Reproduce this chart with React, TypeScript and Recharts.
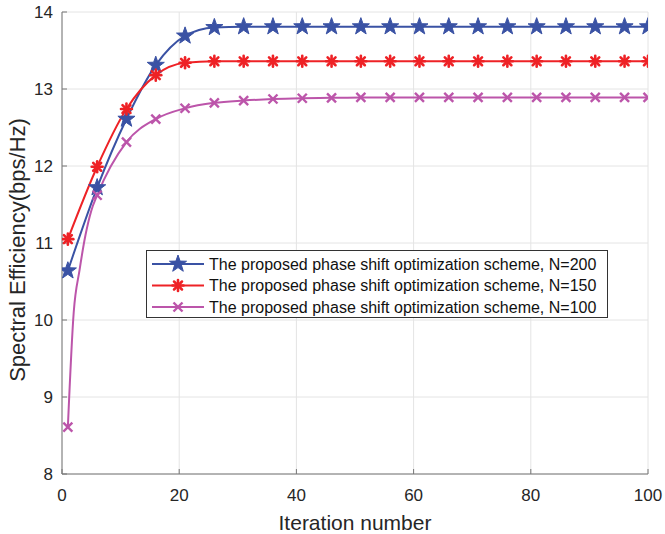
import { LineChart, Line, XAxis, YAxis, CartesianGrid, Legend, Label } from 'recharts';

// iterations where markers are drawn (MATLAB MarkerIndices every 5)
const markerIters = [1, 6, 11, 16, 21, 26, 31, 36, 41, 46, 51, 56, 61, 66, 71, 76, 81, 86, 91, 96, 100];

const n200 = [10.64, 11.72, 12.61, 13.31, 13.69, 13.8, 13.81, 13.81, 13.81, 13.81, 13.81, 13.81, 13.81, 13.81, 13.81, 13.81, 13.81, 13.81, 13.81, 13.81, 13.81];
const n150 = [11.05, 11.99, 12.74, 13.18, 13.34, 13.36, 13.36, 13.36, 13.36, 13.36, 13.36, 13.36, 13.36, 13.36, 13.36, 13.36, 13.36, 13.36, 13.36, 13.36, 13.36];
const n100 = [8.61, 11.62, 12.31, 12.61, 12.75, 12.82, 12.85, 12.87, 12.88, 12.885, 12.89, 12.89, 12.89, 12.89, 12.89, 12.89, 12.89, 12.89, 12.89, 12.89, 12.89];

const n100EarlyIters = [2, 3, 4, 5];
const n100Early = [10.1, 10.65, 11.1, 11.42];

const xTicks = [0, 20, 40, 60, 80, 100];
const yTicks = [8, 9, 10, 11, 12, 13, 14];

const legendNames = [
  'The proposed phase shift optimization scheme, N=200',
  'The proposed phase shift optimization scheme, N=150',
  'The proposed phase shift optimization scheme, N=100',
];

const BLUE = '#3A52A4';
const RED = '#EE2226';
const MAGENTA = '#BC55AA';
const FONT = "'Liberation Sans', Arial, Helvetica, sans-serif";

type Pt = { x: number; y: number; m: boolean };

function build(vals: number[], extraX: number[] = [], extraY: number[] = []): Pt[] {
  const pts: Pt[] = markerIters.map((x, i) => ({ x, y: vals[i], m: true }));
  extraX.forEach((x, i) => pts.push({ x, y: extraY[i], m: false }));
  return pts.sort((a, b) => a.x - b.x);
}

const data200 = build(n200);
const data150 = build(n150);
const data100 = build(n100, n100EarlyIters, n100Early);

function Star({ cx, cy, color }: { cx: number; cy: number; color: string }) {
  const R = 9;
  const r = R * 0.4;
  const pts: string[] = [];
  for (let i = 0; i < 10; i++) {
    const a = -Math.PI / 2 + (i * Math.PI) / 5;
    const rad = i % 2 === 0 ? R : r;
    pts.push(`${cx + rad * Math.cos(a)},${cy + rad * Math.sin(a)}`);
  }
  return <polygon points={pts.join(' ')} fill={color} stroke={color} strokeWidth={1} />;
}

function Asterisk({ cx, cy, color }: { cx: number; cy: number; color: string }) {
  const s = 5.5;
  const d = s * 0.72;
  return (
    <g stroke={color} strokeWidth={2.6} strokeLinecap="round">
      <line x1={cx - s} y1={cy} x2={cx + s} y2={cy} />
      <line x1={cx} y1={cy - s} x2={cx} y2={cy + s} />
      <line x1={cx - d} y1={cy - d} x2={cx + d} y2={cy + d} />
      <line x1={cx - d} y1={cy + d} x2={cx + d} y2={cy - d} />
    </g>
  );
}

function Cross({ cx, cy, color }: { cx: number; cy: number; color: string }) {
  const s = 4.5;
  return (
    <g stroke={color} strokeWidth={2.4}>
      <line x1={cx - s} y1={cy - s} x2={cx + s} y2={cy + s} />
      <line x1={cx - s} y1={cy + s} x2={cx + s} y2={cy - s} />
    </g>
  );
}

const markers = [Star, Asterisk, Cross];
const colors = [BLUE, RED, MAGENTA];

function makeDot(idx: number) {
  const M = markers[idx];
  return (props: any) => {
    const { cx, cy, payload, index } = props;
    if (!payload || !payload.m || cx == null || cy == null) return <g key={`d-${idx}-${index}`} />;
    return (
      <g key={`d-${idx}-${index}`}>
        <M cx={cx} cy={cy} color={colors[idx]} />
      </g>
    );
  };
}

function LegendBox() {
  return (
    <svg width={463} height={69} style={{ display: 'block' }}>
      <rect x={0.5} y={0.5} width={461} height={67} fill="#fff" stroke="#333" strokeWidth={1} />
      {legendNames.map((name, i) => {
        const cy = 14 + i * 21.5;
        const M = markers[i];
        return (
          <g key={name}>
            <line x1={6} y1={cy} x2={58} y2={cy} stroke={colors[i]} strokeWidth={2} />
            <M cx={32} cy={cy} color={colors[i]} />
            <text x={63} y={cy} dominantBaseline="central" fontSize={16} fill="#111" fontFamily={FONT}>
              {name}
            </text>
          </g>
        );
      })}
    </svg>
  );
}

const tickStyle = { fontSize: 17, fill: '#262626', fontFamily: FONT };
const axisStroke = '#777';

export default function App() {
  return (
    <div style={{ position: 'absolute', left: 0, top: 0, background: '#fff' }}>
      <LineChart width={665} height={534} margin={{ top: 12, right: 17, left: 0, bottom: 0 }}>
        <CartesianGrid stroke="#E4E4E4" strokeWidth={1} />
        <XAxis
          dataKey="x"
          type="number"
          domain={[0, 100]}
          ticks={xTicks}
          allowDataOverflow
          height={60}
          tickSize={-5}
          tickMargin={20}
          stroke={axisStroke}
          tick={tickStyle}
        >
          <Label
            content={() => (
              <text x={355} y={530} textAnchor="middle" fontSize={21} fill="#262626" fontFamily={FONT}>
                Iteration number
              </text>
            )}
          />
        </XAxis>
        <XAxis
          xAxisId="top"
          orientation="top"
          type="number"
          domain={[0, 100]}
          ticks={xTicks}
          height={0}
          tickSize={-5}
          tick={false}
          stroke={axisStroke}
        />
        <YAxis
          type="number"
          domain={[8, 14]}
          ticks={yTicks}
          allowDataOverflow
          width={62}
          tickSize={-5}
          tickMargin={14}
          stroke={axisStroke}
          tick={tickStyle}
        >
          <Label
            content={() => (
              <text
                x={17}
                y={250}
                transform="rotate(-90 17 250)"
                textAnchor="middle"
                dominantBaseline="central"
                fontSize={22}
                fill="#262626"
                fontFamily={FONT}
              >
                Spectral Efficiency(bps/Hz)
              </text>
            )}
          />
        </YAxis>
        <YAxis
          yAxisId="right"
          orientation="right"
          type="number"
          domain={[8, 14]}
          ticks={yTicks}
          width={0}
          tickSize={-5}
          tick={false}
          stroke={axisStroke}
        />
        <Legend
          layout="vertical"
          align="center"
          verticalAlign="middle"
          wrapperStyle={{ position: 'absolute', left: 146, top: 250, width: 463 }}
          content={() => <LegendBox />}
        />
        <Line data={data200} dataKey="y" type="monotone" stroke={BLUE} strokeWidth={2} dot={makeDot(0)} activeDot={false} isAnimationActive={false} name={legendNames[0]} />
        <Line data={data150} dataKey="y" type="monotone" stroke={RED} strokeWidth={2} dot={makeDot(1)} activeDot={false} isAnimationActive={false} name={legendNames[1]} />
        <Line data={data100} dataKey="y" type="monotone" stroke={MAGENTA} strokeWidth={2} dot={makeDot(2)} activeDot={false} isAnimationActive={false} name={legendNames[2]} />
      </LineChart>
    </div>
  );
}
